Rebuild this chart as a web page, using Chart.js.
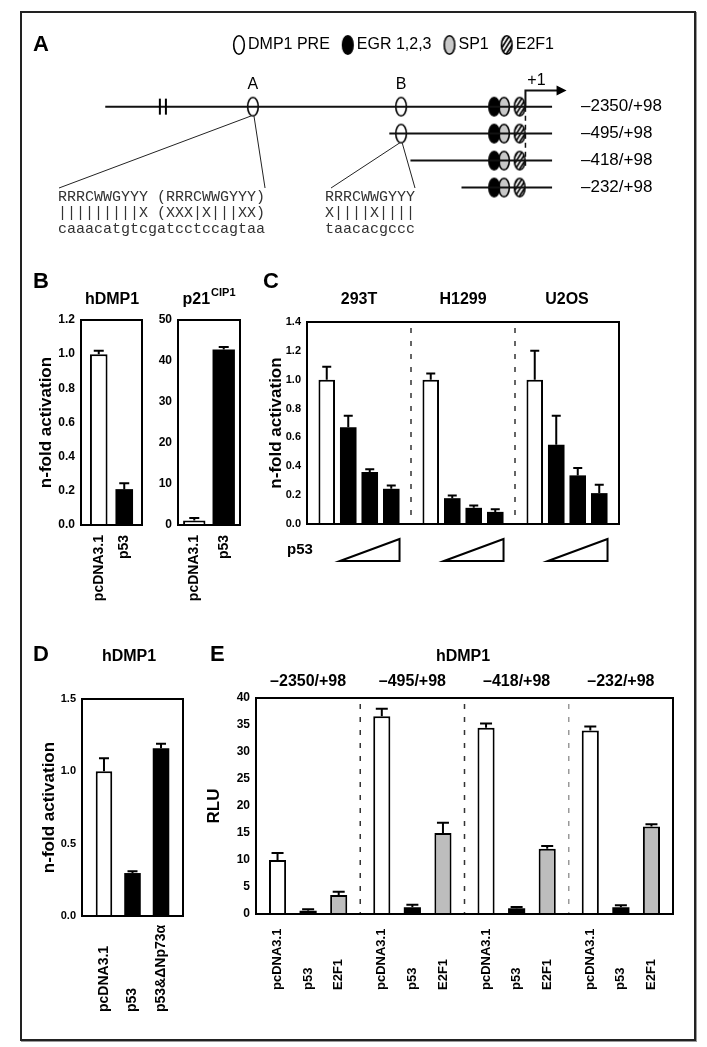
<!DOCTYPE html>
<html>
<head>
<meta charset="utf-8">
<title>hDMP1 promoter and reporter assays</title>
<script src="https://cdn.jsdelivr.net/npm/chart.js@4.4.1/dist/chart.umd.min.js"></script>
<style>
  html, body { margin: 0; padding: 0; background: #fff; }
  #page { position: relative; width: 707px; height: 1047px; overflow: hidden; }
  #page canvas { position: absolute; left: 0; top: 0; }
  #frame { position: absolute; left: 20px; top: 11px; width: 672px; height: 1026px; border: 2px solid #222; box-shadow: 1px 1px 0 #999; }
</style>
</head>
<body>
<div id="page">
  <div id="frame"></div>
  <canvas id="chartA" width="707" height="1047"></canvas>
  <canvas id="chartB1" width="707" height="1047"></canvas>
  <canvas id="chartB2" width="707" height="1047"></canvas>
  <canvas id="chartC" width="707" height="1047"></canvas>
  <canvas id="chartD" width="707" height="1047"></canvas>
  <canvas id="chartE" width="707" height="1047"></canvas>
</div>
<script>
// ---- data: panel A (promoter map, positions in bp relative to +1)
const aConstructs = ['–2350/+98', '–495/+98', '–418/+98', '–232/+98'];
const aStarts = [-2350, -495, -418, -232];
const aEnd = 98;
const aPreSites = [-992, -452];
const aPreNames = ['A', 'B'];
const aEgr = -113, aSp1 = -77, aE2f1 = -20;
const aLegend = ['DMP1 PRE', 'EGR 1,2,3', 'SP1', 'E2F1'];
const aSeqA = ['RRRCWWGYYY (RRRCWWGYYY)', '|||||||||X (XXX|X|||XX)', 'caaacatgtcgatcctccagtaa'];
const aSeqB = ['RRRCWWGYYY', 'X||||X||||', 'taacacgccc'];

// ---- data: panel B
const bLabels = ['pcDNA3.1', 'p53'];
const bDmp1 = [1.0, 0.21];
const bDmp1Err = [1.02, 0.245];
const bP21 = [1.1, 42.8];
const bP21Err = [1.7, 43.4];

// ---- data: panel C
const cLines = ['293T', 'H1299', 'U2OS'];
const cVector = [1.0, 1.0, 1.0];
const cVectorErr = [1.09, 1.043, 1.2];
const cP53Low = [0.67, 0.179, 0.549];
const cP53LowErr = [0.751, 0.198, 0.751];
const cP53Mid = [0.36, 0.112, 0.337];
const cP53MidErr = [0.379, 0.128, 0.388];
const cP53High = [0.244, 0.084, 0.214];
const cP53HighErr = [0.267, 0.102, 0.272];

// ---- data: panel D
const dLabels = ['pcDNA3.1', 'p53', 'p53&ΔNp73α'];
const dValues = [1.0, 0.297, 1.16];
const dErr = [1.09, 0.31, 1.19];

// ---- data: panel E
const eConstructs = ['–2350/+98', '–495/+98', '–418/+98', '–232/+98'];
const eTreat = ['pcDNA3.1', 'p53', 'E2F1'];
const ePcdna = [10.0, 36.6, 34.5, 34.0];
const ePcdnaErr = [11.3, 38.0, 35.3, 34.7];
const eP53 = [0.6, 1.25, 1.06, 1.25];
const eP53Err = [0.9, 1.7, 1.3, 1.6];
const eE2f1 = [3.5, 15.0, 12.1, 16.2];
const eE2f1Err = [4.1, 16.9, 12.6, 16.6];

const FONT = '"Liberation Sans", Arial, sans-serif';
const MONO = '"Liberation Mono", "Courier New", monospace';
const W = 707, H = 1047, AXIS_W = 40;
const WHITE = '#ffffff', BLACK = '#000000', GREY = '#bdbdbd';

function text(g, s, x, y, font, align) {
  g.font = font;
  g.textAlign = align || 'center';
  g.textBaseline = 'middle';
  g.fillText(s, x, y);
}
function vtext(g, s, x, y, font, align) {
  g.save();
  g.translate(x, y);
  g.rotate(-Math.PI / 2);
  text(g, s, 0, 0, font, align);
  g.restore();
}

// ---- ellipse marks used as point styles
function ellipseMark(fill, hatch) {
  const c = document.createElement('canvas');
  c.width = 14; c.height = 22;
  const g = c.getContext('2d');
  const path = () => { g.beginPath(); g.ellipse(7, 11, 5.3, 9.3, 0, 0, Math.PI * 2); };
  path();
  g.fillStyle = fill;
  g.fill();
  if (hatch) {
    g.save();
    g.clip();
    g.strokeStyle = '#000';
    g.lineWidth = 1.7;
    for (let k = -20; k < 30; k += 4.2) {
      g.beginPath(); g.moveTo(k, 22); g.lineTo(k + 14, 0); g.stroke();
    }
    g.restore();
  }
  path();
  g.lineWidth = 1.6;
  g.strokeStyle = '#000';
  g.stroke();
  return c;
}
const markPre = ellipseMark('#fff', false);
const markEgr = ellipseMark('#000', false);
const markSp1 = ellipseMark('#c8c8c8', false);
const markE2f1 = ellipseMark('#fff', true);
const legendMarks = [markPre, markEgr, markSp1, markE2f1];

// ---- panel A
const LETTERS = [['A', 33, 45], ['B', 33, 282], ['C', 263, 282], ['D', 33, 655], ['E', 210, 655]];
const ROW_PX = 27.33, ROW0 = 101, BP_PX = 0.28, BP_LEFT = -1888;
const A_CUT = -1530;
const SEQ_A_X = 58, SEQ_B_X = 325, SEQ_Y = [197, 213, 229];

const prePts = [], egrPts = [], sp1Pts = [], e2f1Pts = [];
aStarts.forEach((s, i) => {
  aPreSites.forEach(p => { if (s <= p) prePts.push({ x: p, y: i }); });
  egrPts.push({ x: aEgr, y: i });
  sp1Pts.push({ x: aSp1, y: i });
  e2f1Pts.push({ x: aE2f1, y: i });
});

const promoterPlugin = {
  id: 'promoter',
  afterDatasetsDraw(chart) {
    const g = chart.ctx, xs = chart.scales.x, ys = chart.scales.y;
    const px = v => xs.getPixelForValue(v), py = v => ys.getPixelForValue(v);
    g.save();
    g.fillStyle = '#000';
    g.strokeStyle = '#000';
    LETTERS.forEach(([t, x, y]) => text(g, t, x, y, 'bold 22px ' + FONT, 'left'));

    // legend
    let lx = 232;
    aLegend.forEach((t, i) => {
      g.drawImage(legendMarks[i], lx, 45 - 11);
      text(g, t, lx + 16, 45, '16px ' + FONT, 'left');
      lx += 16 + g.measureText(t).width + 11;
    });

    // site names, +1, arrow head
    aPreSites.forEach((s, k) => text(g, aPreNames[k], px(s), py(0) - 22, '16px ' + FONT));
    text(g, '+1', px(1) + 11, py(-0.6) - 10, '16px ' + FONT);
    const ex = px(118), ey = py(-0.6);
    g.beginPath(); g.moveTo(ex + 9, ey); g.lineTo(ex - 1, ey - 5); g.lineTo(ex - 1, ey + 5); g.closePath(); g.fill();

    // break in the long construct
    g.lineWidth = 2;
    [-1331, -1309].forEach(b => {
      g.beginPath(); g.moveTo(px(b), py(0) - 8); g.lineTo(px(b), py(0) + 8); g.stroke();
    });

    // construct names
    aConstructs.forEach((t, i) => text(g, t, 581, py(i), '17px ' + FONT, 'left'));

    // sequences and call-out lines
    g.font = '15px ' + MONO;
    const wA = g.measureText(aSeqA[0]).width, wB = g.measureText(aSeqB[0]).width;
    const top = SEQ_Y[0] - 9;
    const sa = [px(aPreSites[0]), py(0) + 9], sb = [px(aPreSites[1]), py(1) + 9];
    g.lineWidth = 1;
    g.strokeStyle = '#222';
    g.beginPath();
    g.moveTo(sa[0] - 1, sa[1]); g.lineTo(SEQ_A_X + 1, top);
    g.moveTo(sa[0] + 1, sa[1]); g.lineTo(SEQ_A_X + wA, top);
    g.moveTo(sb[0] - 1, sb[1]); g.lineTo(SEQ_B_X + 6, top);
    g.moveTo(sb[0] + 1, sb[1]); g.lineTo(SEQ_B_X + wB, top);
    g.stroke();
    g.fillStyle = '#333';
    aSeqA.forEach((s, r) => text(g, s, SEQ_A_X, SEQ_Y[r], '15px ' + MONO, 'left'));
    aSeqB.forEach((s, r) => text(g, s, SEQ_B_X, SEQ_Y[r], '15px ' + MONO, 'left'));
    g.restore();
  }
};

const lineStyle = { borderColor: '#111', borderWidth: 2, pointRadius: 0, showLine: true };
new Chart(document.getElementById('chartA'), {
  type: 'scatter',
  data: {
    datasets: [
      ...aStarts.map((s, i) => ({ type: 'line', ...lineStyle, data: [{ x: Math.max(s, A_CUT), y: i }, { x: aEnd, y: i }] })),
      { type: 'line', ...lineStyle, borderWidth: 1.5, borderDash: [5, 4], data: [{ x: 1, y: 0 }, { x: 1, y: 2.3 }] },
      { type: 'line', ...lineStyle, data: [{ x: 1, y: 0 }, { x: 1, y: -0.6 }, { x: 118, y: -0.6 }] },
      { data: prePts, pointStyle: markPre, pointRadius: 6 },
      { data: egrPts, pointStyle: markEgr, pointRadius: 6 },
      { data: sp1Pts, pointStyle: markSp1, pointRadius: 6 },
      { data: e2f1Pts, pointStyle: markE2f1, pointRadius: 6 }
    ]
  },
  options: {
    responsive: false, animation: false, events: [],
    layout: { padding: 0 },
    scales: {
      x: { type: 'linear', display: false, min: BP_LEFT, max: BP_LEFT + W / BP_PX },
      y: { type: 'linear', display: false, reverse: true, min: -ROW0 / ROW_PX, max: (H - ROW0) / ROW_PX }
    },
    plugins: { legend: { display: false }, tooltip: { enabled: false } }
  },
  plugins: [promoterPlugin]
});

// ---- bar panels
function decoPlugin(cfg) {
  return {
    id: 'deco',
    afterDatasetsDraw(chart) {
      const g = chart.ctx, a = chart.chartArea, xs = chart.scales.x, ys = chart.scales.y;
      g.save();
      if (cfg.seps) {
        g.lineWidth = 1.5;
        g.setLineDash([5, 8]);
        cfg.seps.forEach((col, i) => {
          const x = (xs.getPixelForValue(i) + xs.getPixelForValue(i + 1)) / 2;
          g.strokeStyle = col;
          g.beginPath(); g.moveTo(x, a.top + 6); g.lineTo(x, a.bottom); g.stroke();
        });
        g.setLineDash([]);
      }
      g.strokeStyle = '#000';
      g.lineWidth = 2;
      chart.data.datasets.forEach((ds, di) => {
        chart.getDatasetMeta(di).data.forEach((bar, j) => {
          const top = ys.getPixelForValue(ds.err[j]);
          g.beginPath();
          g.moveTo(bar.x, bar.y); g.lineTo(bar.x, top);
          g.moveTo(bar.x - cfg.cap / 2, top); g.lineTo(bar.x + cfg.cap / 2, top);
          g.stroke();
        });
      });
      g.strokeRect(a.left, a.top, a.right - a.left, a.bottom - a.top);

      g.fillStyle = '#000';
      if (cfg.title) {
        const t = cfg.title, f = 'bold 16px ' + FONT, fs = 'bold 11px ' + FONT;
        g.font = f;
        const w1 = g.measureText(t.text).width;
        let w2 = 0;
        if (t.sup) { g.font = fs; w2 = g.measureText(t.sup).width + 1; }
        const x0 = t.x - (w1 + w2) / 2;
        text(g, t.text, x0, t.y, f, 'left');
        if (t.sup) text(g, t.sup, x0 + w1 + 1, t.y - 7, fs, 'left');
      }
      if (cfg.groupY) {
        chart.data.labels.forEach((l, i) => text(g, l, xs.getPixelForValue(i), cfg.groupY, 'bold 16px ' + FONT));
      }
      if (cfg.yTitle) {
        vtext(g, cfg.yTitle.text, cfg.yTitle.x, (a.top + a.bottom) / 2, 'bold 17px ' + FONT);
      }
      if (cfg.xlab) {
        const f = 'bold ' + cfg.xlab.size + 'px ' + FONT;
        chart.data.datasets.forEach((ds, di) => {
          chart.getDatasetMeta(di).data.forEach(bar => {
            vtext(g, ds.label, bar.x, cfg.xlab.y, f, cfg.xlab.align === 'top' ? 'right' : 'left');
          });
        });
      }
      if (cfg.wedge) {
        const w = cfg.wedge;
        text(g, w.label, w.lx, (w.y1 + w.y2) / 2, 'bold 15px ' + FONT, 'left');
        g.lineWidth = 2;
        chart.data.labels.forEach((l, i) => {
          const b1 = chart.getDatasetMeta(w.from).data[i], b3 = chart.getDatasetMeta(w.to).data[i];
          const xl = b1.x - b1.width / 2, xr = b3.x + b3.width / 2;
          g.beginPath(); g.moveTo(xl, w.y2); g.lineTo(xr, w.y1); g.lineTo(xr, w.y2); g.closePath(); g.stroke();
        });
      }
      g.restore();
    }
  };
}

function barChart(id, labels, sets, cfg) {
  return new Chart(document.getElementById(id), {
    type: 'bar',
    data: {
      labels: labels,
      datasets: sets.map(s => ({
        label: s.label, data: s.data, err: s.err,
        backgroundColor: s.color, borderColor: '#000',
        borderWidth: s.color === BLACK ? 0 : 2,
        categoryPercentage: cfg.catPct, barPercentage: cfg.barPct
      }))
    },
    options: {
      responsive: false, animation: false, events: [],
      layout: { padding: { left: cfg.area.l - AXIS_W, top: cfg.area.t, right: W - cfg.area.r, bottom: H - cfg.area.b } },
      scales: {
        x: { display: false },
        y: {
          min: 0, max: cfg.yMax,
          afterFit: axis => { axis.width = AXIS_W; },
          grid: { display: false, drawTicks: false, tickLength: 0 },
          border: { display: false },
          ticks: {
            stepSize: cfg.yStep, padding: cfg.tickPad || 6, color: '#000',
            font: { family: FONT, weight: 'bold', size: cfg.tickSize || 11 },
            callback: v => v.toFixed(cfg.digits)
          }
        }
      },
      plugins: { legend: { display: false }, tooltip: { enabled: false } }
    },
    plugins: [decoPlugin(cfg)]
  });
}

// B: hDMP1 and p21CIP1
barChart('chartB1', [''], bLabels.map((l, i) => ({ label: l, data: [bDmp1[i]], err: [bDmp1Err[i]], color: i ? BLACK : WHITE })), {
  area: { l: 81, t: 320, r: 142, b: 525 }, yMax: 1.2, yStep: 0.2, digits: 1, tickSize: 12,
  catPct: 0.836, barPct: 0.69, cap: 10,
  title: { text: 'hDMP1', x: 112, y: 300 },
  yTitle: { text: 'n-fold activation', x: 46 },
  xlab: { align: 'top', y: 535, size: 14 }
});
barChart('chartB2', [''], bLabels.map((l, i) => ({ label: l, data: [bP21[i]], err: [bP21Err[i]], color: i ? BLACK : WHITE })), {
  area: { l: 178, t: 320, r: 240, b: 525 }, yMax: 50, yStep: 10, digits: 0, tickSize: 12,
  catPct: 0.95, barPct: 0.76, cap: 10,
  title: { text: 'p21', sup: 'CIP1', x: 209, y: 300 },
  xlab: { align: 'top', y: 535, size: 14 }
});

// C: three cell lines, vector and increasing p53
barChart('chartC', cLines, [
  { label: 'pcDNA3.1', data: cVector, err: cVectorErr, color: WHITE },
  { label: 'p53 low', data: cP53Low, err: cP53LowErr, color: BLACK },
  { label: 'p53 mid', data: cP53Mid, err: cP53MidErr, color: BLACK },
  { label: 'p53 high', data: cP53High, err: cP53HighErr, color: BLACK }
], {
  area: { l: 307, t: 322, r: 619, b: 524 }, yMax: 1.4, yStep: 0.2, digits: 1,
  catPct: 0.827, barPct: 0.77, cap: 9,
  groupY: 300, seps: ['#333', '#333'],
  yTitle: { text: 'n-fold activation', x: 276 },
  wedge: { label: 'p53', lx: 287, y1: 539, y2: 561, from: 1, to: 3 }
});

// D: hDMP1 with dNp73a
barChart('chartD', [''], dLabels.map((l, i) => ({ label: l, data: [dValues[i]], err: [dErr[i]], color: i ? BLACK : WHITE })), {
  area: { l: 82, t: 699, r: 183, b: 916 }, yMax: 1.5, yStep: 0.5, digits: 1,
  catPct: 0.847, barPct: 0.58, cap: 10,
  title: { text: 'hDMP1', x: 129, y: 657 },
  yTitle: { text: 'n-fold activation', x: 49 },
  xlab: { align: 'bottom', y: 1012, size: 14 }
});

// E: promoter deletions
barChart('chartE', eConstructs, [
  { label: eTreat[0], data: ePcdna, err: ePcdnaErr, color: WHITE },
  { label: eTreat[1], data: eP53, err: eP53Err, color: BLACK },
  { label: eTreat[2], data: eE2f1, err: eE2f1Err, color: GREY }
], {
  area: { l: 256, t: 698, r: 673, b: 914 }, yMax: 40, yStep: 5, digits: 0, tickSize: 12,
  catPct: 0.88, barPct: 0.56, cap: 12,
  title: { text: 'hDMP1', x: 463, y: 657 },
  groupY: 682, seps: ['#333', '#333', '#999'],
  yTitle: { text: 'RLU', x: 214 },
  xlab: { align: 'bottom', y: 990, size: 13 }
});
</script>
</body>
</html>
